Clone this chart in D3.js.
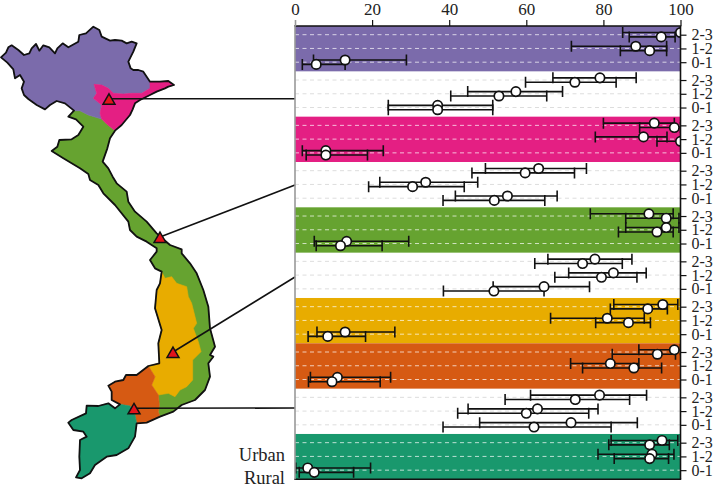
<!DOCTYPE html>
<html><head><meta charset="utf-8">
<script src="https://cdn.jsdelivr.net/npm/d3@7/dist/d3.min.js"></script>
<style>
html,body{margin:0;padding:0;background:#fff}
svg{display:block}
text{font-family:"Liberation Serif","DejaVu Serif",serif;fill:#222}
</style></head><body>
<svg id="c" width="713" height="489"></svg>
<script>
// ---------- chart data (one entry per band, rows ordered 2-3, 1-2, 0-1) ----------
const bandColors = ["#7b6bab",null,"#e41f83",null,"#66a330",null,"#e8ac00","#d65a13",null,"#19986d"];
const rowLabels = ["2-3","1-2","0-1"];
const xTicks = [0,20,40,60,80,100];
const seriesNames = ["Urban","Rural"];
const urbanMean = [[100,88.4,13],[79.1,57.3,37],[93.2,90.4,8],[63.2,33.9,55.1],[91.8,96.3,13.4],[77.8,82.6,64.6],[95.4,81,13],[98.4,81.8,11],[79,62.9,71.6],[95.2,92.6,3.3]];
const urbanLow  = [[85,71.7,4.8],[66.9,44.8,24.2],[80,77.9,1.9],[49.4,22,41.6],[76.6,85.8,5],[65.6,71,51.4],[82.7,66.3,5.7],[89.2,71.5,4],[61.1,44.9,47.9],[82,78.6,0.2]];
const urbanHigh = [[100,96.4,28.9],[88.5,69.4,51.3],[98.4,96.5,22.9],[75.6,47.4,68],[98.1,99.6,29.5],[87.4,91.1,76.4],[99.3,90.6,25.9],[100,89.2,24.8],[91.2,78.6,88.8],[99.3,98.3,19.6]];
const ruralMean = [[95,92,5.5],[72.6,52.9,37],[98.4,100,8],[59.7,30.5,51.7],[96.3,93.9,11.8],[74.6,79.5,51.6],[91.5,86.5,8.5],[94,87.9,9.6],[72.7,60,62],[92,92,5]];
const ruralLow  = [[86.7,84.4,1.9],[59.8,40.4,24.2],[89.4,93.9,2.9],[45.9,19.1,38.4],[85.8,83.9,5.5],[62.2,67.4,38.5],[81.8,78,3.4],[82.3,74.6,3.5],[54.5,42.2,38.4],[81.4,82.8,1.1]];
const ruralHigh = [[98.6,96.4,13],[83.3,65.3,51.3],[100,100,18.8],[72.5,43.9,64.8],[99.6,98.1,22.6],[84.9,88.7,64.6],[96.6,92.2,18.3],[98.7,95.1,22.1],[86.8,76.2,82],[97.1,96.9,15.2]];

// ---------- map outlines (source units: 3 units per pixel; north frame / south frame) ----------
const purpleNorthCoast = [[3,112],[18,98],[25,82],[35,76],[55,90],[72,105],[88,100],[95,85],[108,72],[118,92],[130,76],[148,82],[165,100],[172,85],[188,70],[205,82],[235,65],[238,45],[258,40],[280,20],[298,30],[305,50],[330,62],[345,60],[365,62],[380,70],[395,65],[410,70],[400,95],[385,125],[392,145],[400,150],[415,150],[430,155],[440,170],[450,185]];
const pinkCoast = [[450,185],[480,185],[505,183],[522,195],[505,200],[495,205],[470,215],[450,225],[420,240],[405,250],[398,268],[390,285],[365,315],[345,332]];
const pinkPurpleBorder = [[450,185],[450,205],[425,220],[395,220],[370,222],[340,220],[325,205],[305,195],[282,193],[290,220],[280,235],[305,255],[300,280],[305,297]];
const pinkGreenBorder = [[305,297],[320,312],[345,332]];
const purpleGreenBorder = [[222,272],[240,272],[265,285],[305,297]];
const purpleWestCoast = [[222,272],[195,250],[170,243],[150,255],[135,268],[110,255],[85,237],[72,225],[65,205],[72,185],[60,165],[45,175],[40,148],[22,128],[3,112]];
const greenEastNorth = [[345,332],[330,355],[322,385],[308,425],[325,445],[338,470],[350,490],[380,515],[385,545],[405,575],[440,605],[470,640],[510,675],[545,688]];
const greenWestNorth = [[470,685],[440,665],[410,650],[390,630],[385,605],[345,555],[310,520],[295,495],[270,480],[265,462],[240,445],[190,415],[155,393],[172,380],[178,360],[215,358],[235,345],[250,320],[228,298],[205,290],[222,272]];
const greenEastSouth = [[425,40],[450,70],[470,100],[490,150],[505,200],[510,265],[525,320],[510,345],[520,350],[505,370],[510,410],[495,450],[465,480],[425,495],[400,515],[360,530]];
const greenWestSouth = [[365,95],[345,85],[330,60],[350,35]];
const yellowGreenBorder = [[365,95],[375,115],[395,110],[410,130],[440,140],[445,170],[455,190],[470,250],[460,265],[475,305],[483,335],[458,360],[458,420],[440,440],[420,450],[405,470],[385,460],[355,465]];
const yellowWestCoast = [[325,378],[358,370],[355,310],[365,270],[345,205],[350,150],[360,130],[365,95]];
const yellowOrangeBorder = [[355,465],[335,435],[345,410],[325,378]];
const orangeSouthCoast = [[360,530],[320,548],[290,550]];
const orangeGreenBorder = [[355,465],[358,495],[355,515],[360,530]];
const orangeTealBorder = [[240,493],[270,498],[285,525],[290,550]];
const orangeWestCoast = [[240,493],[215,480],[215,455],[205,437],[225,425],[250,420],[258,405],[290,405],[325,378]];
const tealCoast = [[290,550],[285,590],[265,625],[230,645],[200,650],[165,675],[150,700],[125,715],[108,712],[120,690],[118,650],[120,600],[140,590],[130,575],[100,570],[85,548],[95,540],[138,520],[140,497],[175,498],[205,490],[225,505],[240,493]];

// site markers and the connectors to the chart, in pixels of the map frame
const siteX = [109,160,173,134];
const siteY = [98.7,237,352,408.3];
const siteTargetY = [98.7,185,277,408];

// ---------- layout ----------
const svg = d3.select("#c");
const x = d3.scaleLinear([0,100],[295,680.5]);
const band = d3.scaleBand(d3.range(bandColors.length),[26,479.3]);
const inner = d3.scalePoint(rowLabels,[8.7,36.2]);
const ids = [], pos = [];
band.domain().forEach(b=>rowLabels.forEach(r=>{ids.push(b+"|"+r);pos.push(band(b)+inner(r));}));
const y = d3.scaleOrdinal(ids,pos);

// map
const nx=d3.scaleLinear([0,3],[0,1]), ny=d3.scaleLinear([0,3],[20,21]);
const sx=d3.scaleLinear([0,3],[40,41]), sy=d3.scaleLinear([0,3],[240,241]);
const N=a=>a.map(p=>[nx(p[0]),ny(p[1])]), S=a=>a.map(p=>[sx(p[0]),sy(p[1])]);
const rev=a=>a.slice().reverse();
const line=d3.line(); const closed=a=>line(a)+"Z";
const regions=[
 {c:bandColors[4],p:[...N(pinkGreenBorder),...N(greenEastNorth),...S(greenEastSouth),...S(rev(orangeGreenBorder)),...S(yellowWestCoast.slice(1)),...S(greenWestSouth),...N(greenWestNorth),...N(purpleGreenBorder)]},
 {c:bandColors[0],p:[...N(purpleNorthCoast),...N(pinkPurpleBorder),...N(rev(purpleGreenBorder)),...N(purpleWestCoast)]},
 {c:bandColors[2],p:[...N(pinkCoast),...N(rev(pinkGreenBorder)),...N(rev(pinkPurpleBorder))]},
 {c:bandColors[6],p:[...S(yellowGreenBorder),...S(yellowOrangeBorder),...S(yellowWestCoast)]},
 {c:bandColors[7],p:[...S(orangeWestCoast),...S(rev(yellowOrangeBorder)),...S(orangeGreenBorder),...S(orangeSouthCoast),...S(rev(orangeTealBorder))]},
 {c:bandColors[9],p:[...S(tealCoast),...S(orangeTealBorder)]}
];
const gMap=svg.append("g");
gMap.selectAll("path.r").data(regions).join("path").attr("class","r")
 .attr("d",d=>closed(d.p)).attr("fill",d=>d.c).attr("stroke",d=>d.c).attr("stroke-width",.6).attr("stroke-linejoin","round");
const coast=[...N(purpleNorthCoast),...N(pinkCoast),...N(greenEastNorth),...S(greenEastSouth),...S(orangeSouthCoast),...S(tealCoast),...S(orangeWestCoast),...S(yellowWestCoast),...S(greenWestSouth),...N(greenWestNorth),...N(purpleWestCoast)];
gMap.append("path").attr("d",closed(coast)).attr("fill","none").attr("stroke","#111").attr("stroke-width",1.8).attr("stroke-linejoin","round");

// bands
svg.append("g").selectAll("rect").data(band.domain().filter(b=>bandColors[b])).join("rect")
 .attr("x",x(0)).attr("width",x(100)-x(0)).attr("y",b=>band(b)).attr("height",band.bandwidth()).attr("fill",b=>bandColors[b]);

// dashed row guides
const rows=[]; band.domain().forEach(b=>rowLabels.forEach((r,i)=>rows.push({b,r,i})));
svg.append("g").selectAll("line").data(rows).join("line")
 .attr("x1",x(0)).attr("x2",x(100)).attr("y1",d=>y(d.b+"|"+d.r)).attr("y2",d=>y(d.b+"|"+d.r))
 .attr("stroke",d=>bandColors[d.b]?"#fff":"#ddd").attr("stroke-opacity",d=>bandColors[d.b]?.7:1)
 .attr("stroke-width",1).attr("stroke-dasharray","4,3.5");

// connectors + markers
const sites=d3.range(siteX.length);
svg.append("g").selectAll("line").data(sites).join("line")
 .attr("x1",i=>siteX[i]).attr("y1",i=>siteY[i]).attr("x2",x(0)).attr("y2",i=>siteTargetY[i])
 .attr("stroke","#111").attr("stroke-width",1.6);
const tri=d3.symbol(d3.symbolTriangle,62);
svg.append("g").selectAll("path").data(sites).join("path").attr("d",tri)
 .attr("transform",i=>`translate(${siteX[i]},${siteY[i]+2})`)
 .attr("fill","#e3141c").attr("stroke","#111").attr("stroke-width",1.5).attr("stroke-linejoin","miter");

// error bars
svg.append("defs").append("clipPath").attr("id","plot").append("rect")
 .attr("x",x(0)-1).attr("y",26).attr("width",x(100)-x(0)+1).attr("height",453.3);
const pts=[];
rows.forEach(d=>{
 pts.push({b:d.b,r:d.r,dy:-2.2,m:urbanMean[d.b][d.i],lo:urbanLow[d.b][d.i],hi:urbanHigh[d.b][d.i]});
 pts.push({b:d.b,r:d.r,dy:2.2,m:ruralMean[d.b][d.i],lo:ruralLow[d.b][d.i],hi:ruralHigh[d.b][d.i]});
});
const gE=svg.append("g").attr("clip-path","url(#plot)");
const Y=d=>y(d.b+"|"+d.r)+d.dy;
const k=gE.selectAll("g").data(pts).join("g");
k.append("line").attr("x1",d=>x(d.lo)).attr("x2",d=>x(d.hi)).attr("y1",Y).attr("y2",Y).attr("stroke","#111").attr("stroke-width",1.6);
["lo","hi"].forEach(e=>k.append("line").attr("x1",d=>x(d[e])).attr("x2",d=>x(d[e])).attr("y1",d=>Y(d)-5.5).attr("y2",d=>Y(d)+5.5).attr("stroke","#111").attr("stroke-width",1.6));
gE.selectAll("circle").data(pts).join("circle").attr("cx",d=>x(d.m)).attr("cy",Y).attr("r",4.7)
 .attr("fill","#fff").attr("stroke","#111").attr("stroke-width",1.7);

// frame
const frame=svg.append("g").attr("fill","none").attr("stroke-width",1.6);
frame.append("line").attr("x1",x(0)-.7).attr("x2",x(100)+.7).attr("y1",26).attr("y2",26).attr("stroke","#111");
frame.append("line").attr("x1",x(0)-.7).attr("x2",x(100)+.7).attr("y1",479.3).attr("y2",479.3).attr("stroke","#111");
frame.append("line").attr("x1",x(100)).attr("x2",x(100)).attr("y1",26).attr("y2",479.3).attr("stroke","#111");
frame.append("line").attr("x1",x(0)).attr("x2",x(0)).attr("y1",26).attr("y2",479.3).attr("stroke","#999");

// axes
const topAxis=svg.append("g").attr("transform","translate(0,26)").call(d3.axisTop(x).tickValues(xTicks).tickSize(6).tickPadding(5).tickSizeOuter(0));
topAxis.select(".domain").remove();
topAxis.selectAll(".tick line").attr("stroke",d=>d===0?"#999":"#111").attr("stroke-width",d=>d===0?1.6:1.2);
topAxis.selectAll("text").style("font-size","17px").style("font-family",'"Liberation Serif",serif').attr("fill","#222");
const rightAxis=svg.append("g").attr("transform",`translate(${x(100)},0)`).call(d3.axisRight(y).tickValues(ids).tickFormat(d=>d.split("|")[1]).tickSize(6).tickPadding(5));
rightAxis.select(".domain").remove();
rightAxis.selectAll(".tick line").attr("stroke","#111").attr("stroke-width",1.2);
rightAxis.selectAll("text").style("font-size","16px").style("font-family",'"Liberation Serif",serif').attr("fill","#222");

// series key at the left of the last band
svg.append("g").selectAll("text").data(seriesNames).join("text")
 .attr("x",285).attr("y",(d,i)=>460.5+i*23.5).attr("text-anchor","end").style("font-size","18.5px").text(d=>d);
</script>
</body></html>
